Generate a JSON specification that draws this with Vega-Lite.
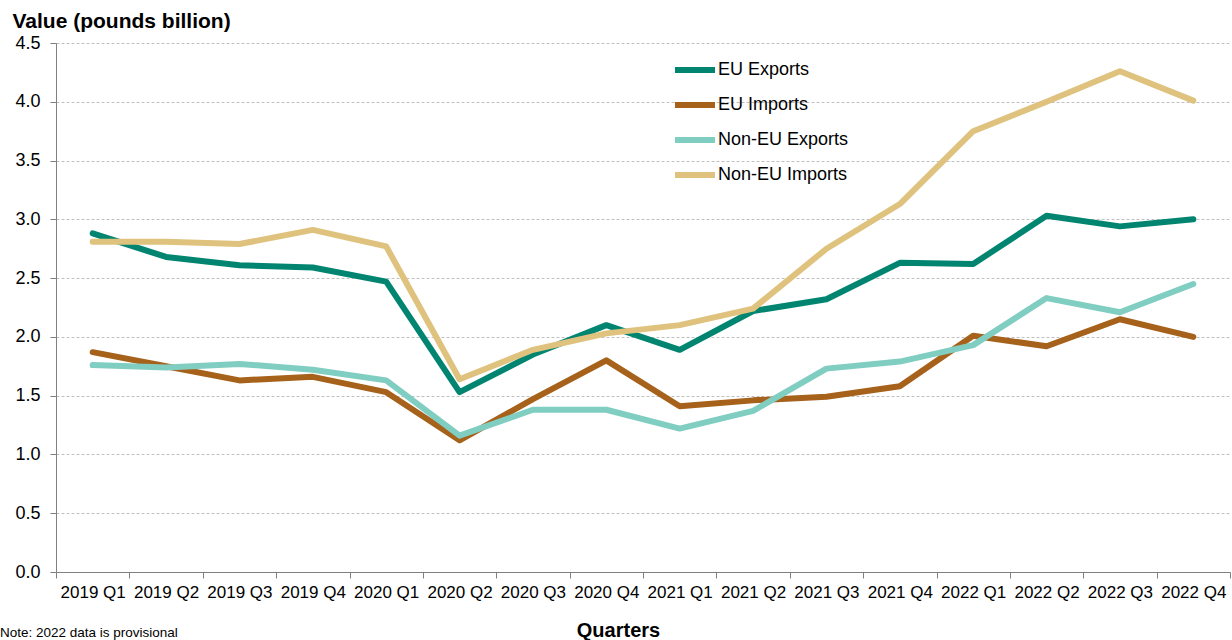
{
  "$schema": "https://vega.github.io/schema/vega-lite/v6.json",
  "width": 1174,
  "height": 529,
  "autosize": {"type": "none"},
  "padding": {"left": 56, "top": 43, "right": 2, "bottom": 68},
  "background": "white",
  "config": {
    "font": "Liberation Sans",
    "view": {"stroke": null}
  },
  "title": {
    "text": "Note: 2022 data is provisional",
    "orient": "bottom",
    "anchor": "start",
    "frame": "group",
    "baseline": "alphabetic",
    "dx": -56,
    "offset": -3,
    "fontSize": 13.5,
    "fontWeight": "normal",
    "color": "#000000"
  },
  "data": {
    "values": [
      {"quarter": "2019 Q1", "series": "EU Exports", "value": 2.88},
      {"quarter": "2019 Q2", "series": "EU Exports", "value": 2.68},
      {"quarter": "2019 Q3", "series": "EU Exports", "value": 2.61},
      {"quarter": "2019 Q4", "series": "EU Exports", "value": 2.59},
      {"quarter": "2020 Q1", "series": "EU Exports", "value": 2.47},
      {"quarter": "2020 Q2", "series": "EU Exports", "value": 1.53},
      {"quarter": "2020 Q3", "series": "EU Exports", "value": 1.85},
      {"quarter": "2020 Q4", "series": "EU Exports", "value": 2.10},
      {"quarter": "2021 Q1", "series": "EU Exports", "value": 1.89},
      {"quarter": "2021 Q2", "series": "EU Exports", "value": 2.22},
      {"quarter": "2021 Q3", "series": "EU Exports", "value": 2.32},
      {"quarter": "2021 Q4", "series": "EU Exports", "value": 2.63},
      {"quarter": "2022 Q1", "series": "EU Exports", "value": 2.62},
      {"quarter": "2022 Q2", "series": "EU Exports", "value": 3.03},
      {"quarter": "2022 Q3", "series": "EU Exports", "value": 2.94},
      {"quarter": "2022 Q4", "series": "EU Exports", "value": 3.00},
      {"quarter": "2019 Q1", "series": "EU Imports", "value": 1.87},
      {"quarter": "2019 Q2", "series": "EU Imports", "value": 1.75},
      {"quarter": "2019 Q3", "series": "EU Imports", "value": 1.63},
      {"quarter": "2019 Q4", "series": "EU Imports", "value": 1.66},
      {"quarter": "2020 Q1", "series": "EU Imports", "value": 1.53},
      {"quarter": "2020 Q2", "series": "EU Imports", "value": 1.12},
      {"quarter": "2020 Q3", "series": "EU Imports", "value": 1.47},
      {"quarter": "2020 Q4", "series": "EU Imports", "value": 1.80},
      {"quarter": "2021 Q1", "series": "EU Imports", "value": 1.41},
      {"quarter": "2021 Q2", "series": "EU Imports", "value": 1.46},
      {"quarter": "2021 Q3", "series": "EU Imports", "value": 1.49},
      {"quarter": "2021 Q4", "series": "EU Imports", "value": 1.58},
      {"quarter": "2022 Q1", "series": "EU Imports", "value": 2.01},
      {"quarter": "2022 Q2", "series": "EU Imports", "value": 1.92},
      {"quarter": "2022 Q3", "series": "EU Imports", "value": 2.15},
      {"quarter": "2022 Q4", "series": "EU Imports", "value": 2.00},
      {"quarter": "2019 Q1", "series": "Non-EU Exports", "value": 1.76},
      {"quarter": "2019 Q2", "series": "Non-EU Exports", "value": 1.74},
      {"quarter": "2019 Q3", "series": "Non-EU Exports", "value": 1.77},
      {"quarter": "2019 Q4", "series": "Non-EU Exports", "value": 1.72},
      {"quarter": "2020 Q1", "series": "Non-EU Exports", "value": 1.63},
      {"quarter": "2020 Q2", "series": "Non-EU Exports", "value": 1.16},
      {"quarter": "2020 Q3", "series": "Non-EU Exports", "value": 1.38},
      {"quarter": "2020 Q4", "series": "Non-EU Exports", "value": 1.38},
      {"quarter": "2021 Q1", "series": "Non-EU Exports", "value": 1.22},
      {"quarter": "2021 Q2", "series": "Non-EU Exports", "value": 1.37},
      {"quarter": "2021 Q3", "series": "Non-EU Exports", "value": 1.73},
      {"quarter": "2021 Q4", "series": "Non-EU Exports", "value": 1.79},
      {"quarter": "2022 Q1", "series": "Non-EU Exports", "value": 1.93},
      {"quarter": "2022 Q2", "series": "Non-EU Exports", "value": 2.33},
      {"quarter": "2022 Q3", "series": "Non-EU Exports", "value": 2.21},
      {"quarter": "2022 Q4", "series": "Non-EU Exports", "value": 2.45},
      {"quarter": "2019 Q1", "series": "Non-EU Imports", "value": 2.81},
      {"quarter": "2019 Q2", "series": "Non-EU Imports", "value": 2.81},
      {"quarter": "2019 Q3", "series": "Non-EU Imports", "value": 2.79},
      {"quarter": "2019 Q4", "series": "Non-EU Imports", "value": 2.91},
      {"quarter": "2020 Q1", "series": "Non-EU Imports", "value": 2.77},
      {"quarter": "2020 Q2", "series": "Non-EU Imports", "value": 1.64},
      {"quarter": "2020 Q3", "series": "Non-EU Imports", "value": 1.89},
      {"quarter": "2020 Q4", "series": "Non-EU Imports", "value": 2.03},
      {"quarter": "2021 Q1", "series": "Non-EU Imports", "value": 2.10},
      {"quarter": "2021 Q2", "series": "Non-EU Imports", "value": 2.24},
      {"quarter": "2021 Q3", "series": "Non-EU Imports", "value": 2.75},
      {"quarter": "2021 Q4", "series": "Non-EU Imports", "value": 3.13},
      {"quarter": "2022 Q1", "series": "Non-EU Imports", "value": 3.75},
      {"quarter": "2022 Q2", "series": "Non-EU Imports", "value": 4.00},
      {"quarter": "2022 Q3", "series": "Non-EU Imports", "value": 4.26},
      {"quarter": "2022 Q4", "series": "Non-EU Imports", "value": 4.01}
    ]
  },
  "mark": {"type": "line", "strokeWidth": 6, "strokeCap": "round", "strokeJoin": "round"},
  "encoding": {
    "x": {
      "field": "quarter",
      "type": "ordinal",
      "sort": null,
      "scale": {"paddingInner": 0, "paddingOuter": 0},
      "axis": {
        "title": "Quarters",
        "titleFontSize": 20,
        "titleFontWeight": "bold",
        "titleColor": "#000000",
        "titleBaseline": "alphabetic",
        "titleX": 562,
        "titleY": 64,
        "labelAngle": 0,
        "labelFontSize": 17,
        "labelColor": "#000000",
        "labelPadding": 6,
        "domainColor": "#808080",
        "tickColor": "#808080",
        "tickSize": 6,
        "tickBand": "extent",
        "grid": false
      }
    },
    "y": {
      "field": "value",
      "type": "quantitative",
      "scale": {"domain": [0, 4.5], "nice": false},
      "axis": {
        "title": "Value (pounds billion)",
        "titleAngle": 0,
        "titleAlign": "left",
        "titleBaseline": "alphabetic",
        "titleX": -44,
        "titleY": -16,
        "titleFontSize": 21,
        "titleFontWeight": "bold",
        "titleColor": "#000000",
        "values": [0, 0.5, 1, 1.5, 2, 2.5, 3, 3.5, 4, 4.5],
        "format": ".1f",
        "labelFontSize": 18,
        "labelColor": "#000000",
        "labelPadding": 10,
        "domainColor": "#808080",
        "tickColor": "#808080",
        "tickSize": 6,
        "grid": true,
        "gridColor": "#c0c0c0",
        "gridDash": [3, 2],
        "gridWidth": 1
      }
    },
    "color": {
      "field": "series",
      "type": "nominal",
      "sort": ["EU Exports", "EU Imports", "Non-EU Exports", "Non-EU Imports"],
      "scale": {
        "domain": ["EU Exports", "EU Imports", "Non-EU Exports", "Non-EU Imports"],
        "range": ["#018571", "#a6611a", "#80cdc1", "#dfc27d"]
      },
      "legend": {
        "title": null,
        "orient": "none",
        "legendX": 616,
        "legendY": 4,
        "symbolType": "stroke",
        "symbolSize": 1600,
        "symbolStrokeWidth": 6,
        "labelFontSize": 18,
        "labelColor": "#000000",
        "labelOffset": 0,
        "rowPadding": -6
      }
    }
  }
}
